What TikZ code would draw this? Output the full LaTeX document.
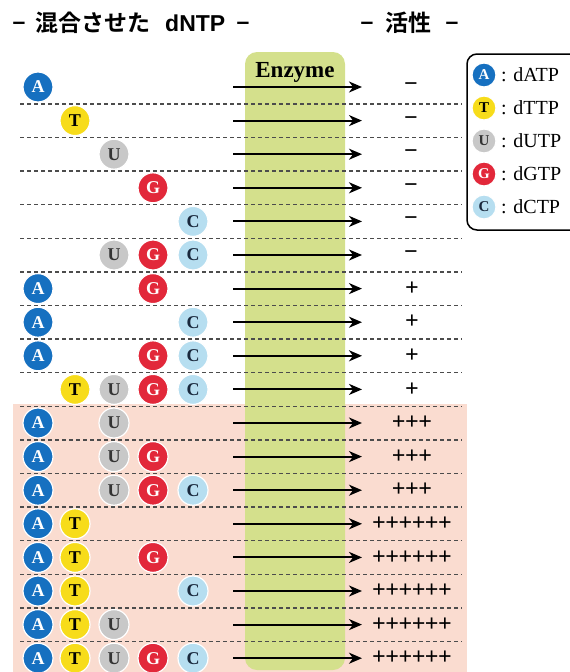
\documentclass[tikz,border=0pt]{standalone}
\usepackage{fontspec}
\setmainfont{Liberation Serif}
\newfontfamily\jp[BoldFont={Noto Sans CJK JP Bold}]{Noto Sans CJK JP}
\newfontfamily\hsans{Liberation Sans}
\usetikzlibrary{arrows.meta}
\definecolor{cA}{RGB}{22,112,192}
\definecolor{cT}{RGB}{247,220,26}
\definecolor{cU}{RGB}{200,200,200}
\definecolor{cG}{RGB}{226,40,58}
\definecolor{cC}{RGB}{182,222,240}
\definecolor{pinkbg}{RGB}{250,220,208}
\definecolor{enz}{RGB}{212,224,140}
\definecolor{dkC}{RGB}{25,40,60}
\tikzset{
  nuc/.style={circle, minimum size=30pt, inner sep=0pt, draw=white, line width=1.2pt,
    font=\fontsize{18}{18}\selectfont\bfseries},
  nA/.style={nuc, fill=cA, text=white},
  nT/.style={nuc, fill=cT, text=black},
  nU/.style={nuc, fill=cU, text=black!80},
  nG/.style={nuc, fill=cG, text=white},
  nC/.style={nuc, fill=cC, text=dkC},
  lg/.style={minimum size=24pt, font=\fontsize{15}{15}\selectfont\bfseries},
  sepline/.style={dash pattern=on 4pt off 3pt, line width=1.4pt, draw=black!70},
  flow/.style={-{Stealth[length=13pt,width=11pt,inset=4pt]}, line width=2pt},
  act/.style={font=\fontsize{24}{24}\selectfont\bfseries, inner sep=0pt},
  hdr/.style={font=\jp\bfseries\fontsize{23}{23}\selectfont, inner sep=0pt},
  hdash/.style={font=\hsans\bfseries\fontsize{23}{23}\selectfont, inner sep=0pt, anchor=base},
  lgtext/.style={font=\fontsize{20}{20}\selectfont, anchor=west, inner sep=0pt},
}
\def\xA{38}\def\xT{75}\def\xU{114}\def\xG{153}\def\xC{193}
\begin{document}
\begin{tikzpicture}[x=1pt,y=-1pt]
\useasboundingbox (0,0) rectangle (570,672);
% backgrounds
\fill[pinkbg] (13,404) rectangle (467,680);
\fill[enz, rounded corners=12pt] (245,52) rectangle (345,670);
\node[font=\fontsize{23}{23}\selectfont\bfseries, inner sep=0pt] (enzyme) at (295,72) {Enzyme};
% separators
\foreach \r in {1,...,17} {
  \pgfmathsetmacro{\yy}{87+(\r-1)*33.6+16.8}
  \draw[sepline] (20,\yy) -- (462,\yy);
}
% rows
\foreach \r/\l in {1/{A},2/{T},3/{U},4/{G},5/{C},6/{U,G,C},
  7/{A,G},8/{A,C},9/{A,G,C},10/{T,U,G,C},
  11/{A,U},12/{A,U,G},13/{A,U,G,C},
  14/{A,T},15/{A,T,G},16/{A,T,C},17/{A,T,U},18/{A,T,U,G,C}} {
  \pgfmathsetmacro{\yy}{87+(\r-1)*33.6}
  \foreach \n in \l {
    \node[n\n] (r\r\n) at (\csname x\n\endcsname,\yy) {\n};
  }
  \coordinate (s\r) at (233,\yy);
  \coordinate (e\r) at (362,\yy);
  \draw[flow] (s\r) -- (e\r);
}
% activity labels
\foreach \r in {1,...,6} {
  \pgfmathsetmacro{\yy}{87+(\r-1)*33.6}
  \node[act] (act\r) at (411,\yy) {−};
}
\foreach \r in {7,...,10} {
  \pgfmathsetmacro{\yy}{87+(\r-1)*33.6}
  \node[act] (act\r) at (412,\yy) {+};
}
\foreach \r in {11,...,13} {
  \pgfmathsetmacro{\yy}{87+(\r-1)*33.6}
  \node[act] (act\r) at (412,\yy) {+\kern-0.5pt+\kern-0.5pt+};
}
\foreach \r in {14,...,18} {
  \pgfmathsetmacro{\yy}{87+(\r-1)*33.6}
  \node[act] (act\r) at (412,\yy) {+\kern-0.5pt+\kern-0.5pt+\kern-0.5pt+\kern-0.5pt+\kern-0.5pt+};
}
% headers
\node[hdash] (h1) at (19,29.5) {–};
\node[hdr, anchor=west] (h2) at (35,23) {混合させた\hspace{15pt}{\hsans\bfseries dNTP}};
\node[hdash] (h3) at (243,29.5) {–};
\node[hdash] (h4) at (367,29.5) {–};
\node[hdr] (h5) at (408,23) {活性};
\node[hdash] (h6) at (452,29.5) {–};
% legend
\draw[line width=1.5pt, rounded corners=10pt] (467,54) rectangle (585,230);
\foreach \n/\t/\yy in {A/dATP/75,T/dTTP/108,U/dUTP/141,G/dGTP/174,C/dCTP/207} {
  \node[n\n, lg] (lg\n) at (484,\yy) {\n};
  \node[lgtext] (lt\n) at (501,\yy) {: \t};
}
\end{tikzpicture}
\end{document}
